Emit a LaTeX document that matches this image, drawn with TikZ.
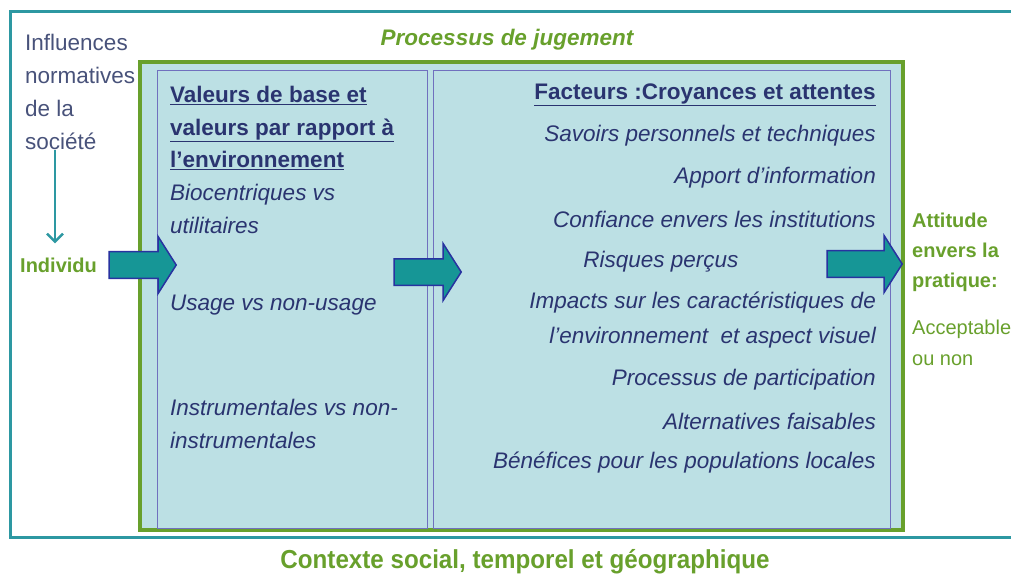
\documentclass[tikz,border=0pt]{standalone}
\usepackage{fontspec}
\setmainfont{Liberation Sans}
\usepackage{graphicx}
\usetikzlibrary{arrows.meta}
\usetikzlibrary{shapes.arrows}
\tikzset{>=latex, line width=1.0pt}
\definecolor{cadre}{RGB}{45,152,162}
\definecolor{vert}{RGB}{104,160,44}
\definecolor{fond}{RGB}{188,224,228}
\definecolor{bord}{RGB}{112,112,190}
\definecolor{encre}{RGB}{42,52,112}
\definecolor{gris}{RGB}{72,82,122}
\definecolor{fleche}{RGB}{22,150,150}
\definecolor{flechebord}{RGB}{40,50,160}
\newcommand{\tsz}{\fontsize{22.5}{27}\selectfont}

\begin{document}
\begin{tikzpicture}[x=1pt,y=-1pt,
    blockarrow/.style={single arrow,draw=flechebord,fill=fleche,line width=1.5pt,
      inner xsep=0pt,inner ysep=12.5pt,single arrow head extend=15pt,single arrow tip angle=115},
    colbox/.style={draw=bord,fill=fond,line width=0.8pt,inner sep=0pt},
    item/.style={font=\tsz\itshape,text=encre,inner sep=0pt},
    side/.style={font=\tsz,inner sep=0pt,align=left}]
  \useasboundingbox (0,0) rectangle (1011,577);

  % context frame
  \draw[cadre,line width=3pt] (1011,12) -- (10,12) -- (10,537) -- (1011,537);
  \node[font=\fontsize{26}{30}\selectfont\bfseries,text=vert] (ctx) at (525,562)
    {\scalebox{0.93}[1]{Contexte social, temporel et géographique}};

  % jugement
  \node[draw=vert,fill=fond,line width=4pt,minimum width=763pt,minimum height=468pt,inner sep=0pt] (jug) at (521.5,296) {};
  \node[font=\tsz\bfseries\itshape,text=vert] (jugt) at (507,40) {Processus de jugement};
  \node[colbox,minimum width=270pt,minimum height=458pt] (vals) at (292,299) {};
  \node[colbox,minimum width=457pt,minimum height=458pt] (facts) at (661.5,299) {};

  % left side
  \node[side,text=gris,font=\fontsize{22.5}{33}\selectfont,anchor=west] (infl) at (25,92) {Influences\\normatives\\de la\\société};
  \node[side,text=vert,font=\fontsize{20}{24}\selectfont\bfseries,anchor=west] (indiv) at (20,265) {Individu};
  \draw[->,>={Straight Barb[length=8pt,width=16pt]},cadre,line width=2.5pt] (infl.south -| 55,0) -- ([yshift=14pt]indiv.north -| 55,0);

  % values
  \node[side,text=encre,font=\fontsize{22.5}{32.5}\selectfont\bfseries,anchor=west] (valt) at (170,128)
    {\underline{Valeurs de base et}\\\underline{valeurs par rapport à}\\\underline{l’environnement}};
  \node[item,align=left,font=\fontsize{22.5}{33}\selectfont\itshape,anchor=west] (v1) at (170,209) {Biocentriques vs\\utilitaires};
  \node[item,anchor=west] (v2) at (170,305) {Usage vs non-usage};
  \node[item,align=left,font=\fontsize{22.5}{33}\selectfont\itshape,anchor=west] (v3) at (170,424) {Instrumentales vs non-\\instrumentales};

  % factors
  \node[item,font=\tsz\bfseries,anchor=east] (factt) at (876,95) {\underline{Facteurs :Croyances et attentes}};
  \node[item,anchor=east] (f1) at (876,136) {Savoirs personnels et techniques};
  \node[item,anchor=east] (f2) at (876,178) {Apport d’information};
  \node[item,anchor=east] (f3) at (876,219) {Confiance envers les institutions};
  \node[item] (f4) at (661,262) {Risques perçus};
  \node[item,align=right,font=\fontsize{22.5}{35}\selectfont\itshape,anchor=east] (f5) at (876,320)
    {Impacts sur les caractéristiques de\\l’environnement~ et aspect visuel};
  \node[item,anchor=east] (f6) at (876,380) {Processus de participation};
  \node[item,anchor=east] (f7) at (876,421) {Alternatives faisables};
  \node[item,anchor=east] (f8) at (876,463) {Bénéfices pour les populations locales};

  % attitude
  \node[side,text=vert,font=\fontsize{20}{30}\selectfont\bfseries,anchor=west] (att) at (912,252) {Attitude\\envers la\\pratique:};
  \node[side,text=vert,font=\fontsize{20}{31}\selectfont,anchor=west] (acc) at (912,343) {Acceptable\\ou non};

  % arrows
  \node[blockarrow,minimum height=67pt] (a1) at (138.5,265) {};
  \node[blockarrow,minimum height=67pt] (a2) at (423.5,272) {};
  \node[blockarrow,minimum height=75pt] (a3) at (860.5,264) {};
\end{tikzpicture}
\end{document}
